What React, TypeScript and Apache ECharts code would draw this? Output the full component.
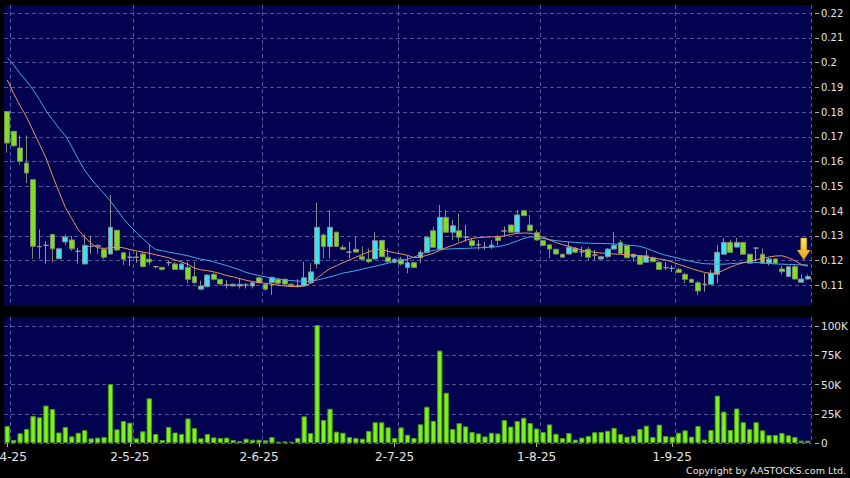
import React, { useEffect, useRef } from 'react';
import * as echarts from 'echarts';

// Trading days (HK) April - September 2025
const APR_DAYS = [1, 2, 3, 7, 8, 9, 10, 11, 14, 15, 16, 17, 22, 23, 24, 25, 28, 29, 30];
const MAY_DAYS = [2, 6, 7, 8, 9, 12, 13, 14, 15, 16, 19, 20, 21, 22, 23, 26, 27, 28, 29, 30];
const JUN_DAYS = [2, 3, 4, 5, 6, 9, 10, 11, 12, 13, 16, 17, 18, 19, 20, 23, 24, 25, 26, 27, 30];
const JUL_DAYS = [2, 3, 4, 7, 8, 9, 10, 11, 14, 15, 16, 17, 18, 21, 22, 23, 24, 25, 28, 29, 30, 31];
const AUG_DAYS = [1, 4, 5, 6, 7, 8, 11, 12, 13, 14, 15, 18, 19, 20, 21, 22, 25, 26, 27, 28, 29];
const SEP_DAYS = [1, 2, 3, 4, 5, 8, 9, 10, 11, 12, 15, 16, 17, 18, 19, 22, 23, 24, 25, 26, 29, 30];
const MONTHS: [number, number[]][] = [[4, APR_DAYS], [5, MAY_DAYS], [6, JUN_DAYS], [7, JUL_DAYS], [8, AUG_DAYS], [9, SEP_DAYS]];

const categories: string[] = [];
const monthStarts: number[] = [];
MONTHS.forEach(([m, days]) => {
  monthStarts.push(categories.length);
  days.forEach((d) => categories.push(`${d}-${m}-25`));
});

// [open, close, low, high]
const ohlc: number[][] = [
  [0.1802, 0.1675, 0.1636, 0.1802], [0.1722, 0.1664, 0.1660, 0.1725], [0.1655, 0.1601, 0.1588, 0.1705], [0.1594, 0.1554, 0.1514, 0.1705],
  [0.1527, 0.1258, 0.1208, 0.1527], [0.1256, 0.1258, 0.1208, 0.1326], [0.1262, 0.1262, 0.1189, 0.1279], [0.1306, 0.1248, 0.1194, 0.1306],
  [0.1208, 0.1248, 0.1206, 0.1252], [0.1276, 0.1296, 0.1262, 0.1306], [0.1284, 0.1248, 0.1239, 0.1300], [0.1238, 0.1238, 0.1189, 0.1252],
  [0.1187, 0.1262, 0.1185, 0.1306], [0.1258, 0.1258, 0.1228, 0.1300], [0.1262, 0.1258, 0.1228, 0.1266], [0.1246, 0.1214, 0.1206, 0.1250],
  [0.1227, 0.1335, 0.1225, 0.1465], [0.1323, 0.1243, 0.1240, 0.1325], [0.1232, 0.1206, 0.1183, 0.1236], [0.1214, 0.1214, 0.1178, 0.1236],
  [0.1214, 0.1214, 0.1192, 0.1236], [0.1227, 0.1176, 0.1174, 0.1236], [0.1206, 0.1195, 0.1183, 0.1264], [0.1176, 0.1176, 0.1170, 0.1179],
  [0.1173, 0.1165, 0.1160, 0.1175], [0.1192, 0.1192, 0.1179, 0.1200], [0.1187, 0.1165, 0.1163, 0.1195], [0.1165, 0.1187, 0.1163, 0.1189],
  [0.1173, 0.1125, 0.1110, 0.1195], [0.1136, 0.1111, 0.1108, 0.1195], [0.1085, 0.1098, 0.1083, 0.1120], [0.1095, 0.1142, 0.1093, 0.1145],
  [0.1145, 0.1125, 0.1120, 0.1151], [0.1125, 0.1106, 0.1100, 0.1128], [0.1102, 0.1102, 0.1088, 0.1121], [0.1098, 0.1105, 0.1096, 0.1108],
  [0.1098, 0.1105, 0.1088, 0.1128], [0.1102, 0.1102, 0.1088, 0.1109], [0.1098, 0.1111, 0.1088, 0.1115], [0.1131, 0.1111, 0.1109, 0.1135],
  [0.1105, 0.1085, 0.1080, 0.1109], [0.1111, 0.1133, 0.1062, 0.1135], [0.1125, 0.1109, 0.1101, 0.1131], [0.1125, 0.1106, 0.1100, 0.1128],
  [0.1105, 0.1098, 0.1093, 0.1109], [0.1098, 0.1098, 0.1093, 0.1125], [0.1098, 0.1131, 0.1096, 0.1196], [0.1111, 0.1155, 0.1109, 0.1190],
  [0.1187, 0.1335, 0.1169, 0.1434], [0.1304, 0.1257, 0.1210, 0.1310], [0.1257, 0.1335, 0.1210, 0.1405], [0.1315, 0.1257, 0.1255, 0.1317],
  [0.1253, 0.1246, 0.1244, 0.1264], [0.1235, 0.1235, 0.1210, 0.1276], [0.1246, 0.1235, 0.1232, 0.1297], [0.1216, 0.1206, 0.1204, 0.1257],
  [0.1206, 0.1196, 0.1190, 0.1249], [0.1207, 0.1281, 0.1205, 0.1317], [0.1282, 0.1216, 0.1214, 0.1284], [0.1214, 0.1196, 0.1192, 0.1249],
  [0.1194, 0.1206, 0.1190, 0.1210], [0.1206, 0.1187, 0.1181, 0.1216], [0.1173, 0.1192, 0.1149, 0.1223], [0.1192, 0.1173, 0.1170, 0.1195],
  [0.1212, 0.1234, 0.1190, 0.1243], [0.1234, 0.1295, 0.1230, 0.1297], [0.1321, 0.1254, 0.1252, 0.1337], [0.1247, 0.1375, 0.1245, 0.1425],
  [0.1375, 0.1315, 0.1313, 0.1405], [0.1315, 0.1341, 0.1284, 0.1364], [0.1321, 0.1295, 0.1277, 0.1391], [0.1295, 0.1295, 0.1277, 0.1344],
  [0.1281, 0.1261, 0.1255, 0.1290], [0.1264, 0.1264, 0.1245, 0.1283], [0.1254, 0.1254, 0.1245, 0.1276], [0.1255, 0.1263, 0.1247, 0.1283],
  [0.1295, 0.1282, 0.1262, 0.1304], [0.1320, 0.1320, 0.1300, 0.1338], [0.1344, 0.1315, 0.1313, 0.1346], [0.1315, 0.1385, 0.1313, 0.1405],
  [0.1402, 0.1382, 0.1380, 0.1406], [0.1344, 0.1321, 0.1318, 0.1385], [0.1313, 0.1284, 0.1280, 0.1324], [0.1281, 0.1262, 0.1259, 0.1284],
  [0.1264, 0.1247, 0.1210, 0.1266], [0.1246, 0.1227, 0.1225, 0.1249], [0.1226, 0.1214, 0.1211, 0.1229], [0.1227, 0.1254, 0.1225, 0.1277],
  [0.1250, 0.1234, 0.1230, 0.1255], [0.1236, 0.1236, 0.1216, 0.1256], [0.1246, 0.1214, 0.1203, 0.1256], [0.1223, 0.1223, 0.1203, 0.1243],
  [0.1207, 0.1216, 0.1205, 0.1218], [0.1216, 0.1247, 0.1211, 0.1251], [0.1247, 0.1261, 0.1245, 0.1317], [0.1274, 0.1230, 0.1228, 0.1284],
  [0.1261, 0.1212, 0.1210, 0.1263], [0.1215, 0.1226, 0.1196, 0.1228], [0.1220, 0.1186, 0.1184, 0.1222], [0.1194, 0.1220, 0.1192, 0.1243],
  [0.1212, 0.1196, 0.1194, 0.1216], [0.1194, 0.1165, 0.1163, 0.1196], [0.1172, 0.1172, 0.1163, 0.1194], [0.1169, 0.1169, 0.1155, 0.1181],
  [0.1165, 0.1153, 0.1150, 0.1172], [0.1145, 0.1125, 0.1110, 0.1151], [0.1125, 0.1113, 0.1110, 0.1128], [0.1111, 0.1078, 0.1062, 0.1119],
  [0.1105, 0.1105, 0.1075, 0.1149], [0.1105, 0.1149, 0.1103, 0.1163], [0.1145, 0.1234, 0.1109, 0.1263], [0.1226, 0.1274, 0.1224, 0.1291],
  [0.1274, 0.1234, 0.1232, 0.1285], [0.1255, 0.1274, 0.1253, 0.1292], [0.1274, 0.1226, 0.1224, 0.1276], [0.1226, 0.1190, 0.1188, 0.1228],
  [0.1251, 0.1251, 0.1196, 0.1253], [0.1226, 0.1190, 0.1188, 0.1250], [0.1190, 0.1207, 0.1180, 0.1212], [0.1207, 0.1190, 0.1188, 0.1209],
  [0.1167, 0.1156, 0.1145, 0.1180], [0.1136, 0.1176, 0.1134, 0.1178], [0.1176, 0.1126, 0.1124, 0.1185], [0.1113, 0.1126, 0.1111, 0.1145],
  [0.1126, 0.1136, 0.1124, 0.1145],
];

// 10-day moving average (orange)
const ma10 = [
  0.1930, 0.1875, 0.1825, 0.1780, 0.1725, 0.1670, 0.1615, 0.1545, 0.1480, 0.1415,
  0.1370, 0.1325, 0.1295, 0.1270, 0.1252, 0.1250, 0.1252, 0.1256, 0.1252, 0.1245,
  0.1240, 0.1235, 0.1230, 0.1224, 0.1218, 0.1212, 0.1203, 0.1195, 0.1185, 0.1170,
  0.1163, 0.1160, 0.1155, 0.1148, 0.1140, 0.1135, 0.1128, 0.1121, 0.1116, 0.1112,
  0.1109, 0.1105, 0.1101, 0.1098, 0.1096, 0.1095, 0.1099, 0.1108, 0.1130, 0.1150,
  0.1168, 0.1180, 0.1192, 0.1203, 0.1214, 0.1225, 0.1236, 0.1245, 0.1245, 0.1238,
  0.1232, 0.1227, 0.1222, 0.1212, 0.1215, 0.1222, 0.1230, 0.1242, 0.1253, 0.1262,
  0.1272, 0.1282, 0.1290, 0.1293, 0.1295, 0.1296, 0.1297, 0.1300, 0.1306, 0.1310,
  0.1312, 0.1311, 0.1305, 0.1295, 0.1284, 0.1273, 0.1265, 0.1258, 0.1250, 0.1243,
  0.1238, 0.1234, 0.1231, 0.1229, 0.1227, 0.1226, 0.1224, 0.1223, 0.1220, 0.1216,
  0.1211, 0.1207, 0.1203, 0.1195, 0.1185, 0.1177, 0.1168, 0.1160, 0.1153, 0.1149,
  0.1150, 0.1162, 0.1174, 0.1184, 0.1192, 0.1198, 0.1204, 0.1210, 0.1215, 0.1219,
  0.1220, 0.1212, 0.1200, 0.1185, 0.1178,
];

// 20-day moving average (blue)
const ma20 = [
  0.2020, 0.1990, 0.1955, 0.1925, 0.1890, 0.1850, 0.1805, 0.1770, 0.1735, 0.1705,
  0.1660, 0.1610, 0.1565, 0.1530, 0.1500, 0.1470, 0.1440, 0.1405, 0.1370, 0.1340,
  0.1315, 0.1290, 0.1265, 0.1245, 0.1240, 0.1235, 0.1230, 0.1225, 0.1220, 0.1213,
  0.1206, 0.1202, 0.1195, 0.1188, 0.1180, 0.1172, 0.1163, 0.1153, 0.1146, 0.1140,
  0.1135, 0.1130, 0.1126, 0.1122, 0.1120, 0.1118, 0.1116, 0.1117, 0.1122, 0.1128,
  0.1135, 0.1142, 0.1150, 0.1155, 0.1160, 0.1166, 0.1172, 0.1178, 0.1184, 0.1190,
  0.1196, 0.1201, 0.1206, 0.1215, 0.1225, 0.1235, 0.1242, 0.1245, 0.1247, 0.1248,
  0.1249, 0.1250, 0.1251, 0.1252, 0.1253, 0.1255, 0.1257, 0.1262, 0.1270, 0.1280,
  0.1290, 0.1296, 0.1295, 0.1290, 0.1285, 0.1281, 0.1278, 0.1276, 0.1274, 0.1272,
  0.1271, 0.1270, 0.1270, 0.1269, 0.1267, 0.1265, 0.1263, 0.1261, 0.1258, 0.1250,
  0.1240, 0.1230, 0.1222, 0.1216, 0.1210, 0.1203, 0.1197, 0.1192, 0.1188, 0.1187,
  0.1186, 0.1186, 0.1188, 0.1190, 0.1192, 0.1194, 0.1193, 0.1191, 0.1189, 0.1187,
  0.1186, 0.1185, 0.1184, 0.1183, 0.1183,
];

// Volume in thousands of shares
const volumeK = [
  14.5, 2.6, 8.3, 12, 23, 22, 32, 29, 9, 13.7,
  5.7, 8.8, 11, 4, 4.6, 5.1, 50.4, 11.7, 18.8, 17.4,
  4, 10, 38.2, 7.7, 2.6, 13.7, 9, 7.7, 21, 12.8,
  4, 7.7, 4.8, 4.3, 4.6, 2.6, 1.7, 3.7, 2.8, 2.8,
  2.3, 5.1, 1.1, 1.4, 1.1, 4.3, 22.8, 8.5, 100.8, 19.7,
  29.3, 9.7, 8.8, 5.1, 4.3, 3.7, 10.3, 17.7, 17.7, 13.4,
  4.3, 13.4, 7.1, 4.3, 16, 31, 19, 79, 43, 12,
  17, 14.2, 9.4, 8.2, 5.6, 8.8, 8.2, 19.7, 14, 18.8,
  21.6, 17, 12.4, 9.4, 15.9, 7.9, 4.3, 8.6, 2.9, 4.6,
  6, 9.2, 9.4, 10.5, 13, 7.7, 5.4, 6.3, 12, 14.8,
  5.1, 15.7, 6, 5.4, 8.8, 10.8, 5.4, 14.5, 2.9, 11.1,
  40.5, 26.8, 11.1, 29.5, 17.8, 11.8, 17.8, 10.8, 6.9, 6.9,
  8.6, 6.6, 5.1, 2, 2,
];

const priceTicks = [0.11, 0.12, 0.13, 0.14, 0.15, 0.16, 0.17, 0.18, 0.19, 0.2, 0.21, 0.22];
const volumeTicks = [0, 25, 50, 75, 100];

const NAVY = '#020251';
const GRID_LINE = { color: '#55559c', width: 1, type: [4, 3] as number[] };
const LABEL_COLOR = '#e4e4e4';
const FONT = 'DejaVu Sans';

const isMonthStart = (i: number) => monthStarts.indexOf(i) >= 0;

export default function App() {
  const ref = useRef<HTMLDivElement>(null);
  useEffect(() => {
    document.body.style.margin = '0';
    document.body.style.background = '#000';
    const chart = echarts.init(ref.current!, null, { renderer: 'svg' });
    const gridBase = { left: 4, width: 807, show: true, backgroundColor: NAVY, borderWidth: 0, containLabel: false, outerBoundsMode: 'none' };
    const option: any = {
      animation: false,
      backgroundColor: '#000',
      grid: [
        { ...gridBase, top: 5, height: 301 },
        { ...gridBase, top: 317, height: 126 },
      ],
      xAxis: [
        {
          type: 'category', gridIndex: 0, data: categories, boundaryGap: true,
          axisLine: { show: false }, axisTick: { show: false }, axisLabel: { show: false },
          splitLine: { show: true, interval: (i: number) => isMonthStart(i - 1), lineStyle: GRID_LINE },
        },
        {
          type: 'category', gridIndex: 1, data: categories, boundaryGap: true, offset: 2,
          axisLine: { show: false },
          axisTick: { show: true, alignWithLabel: true, interval: (i: number) => isMonthStart(i), length: 4, lineStyle: { color: '#b0b0b0' } },
          axisLabel: {
            interval: (i: number) => isMonthStart(i), color: LABEL_COLOR, fontSize: 12, fontFamily: FONT, margin: 6,
            alignMinLabel: 'center', alignMaxLabel: 'center', hideOverlap: false,
          },
          splitLine: { show: true, interval: (i: number) => isMonthStart(i - 1), lineStyle: GRID_LINE },
        },
      ],
      yAxis: [
        {
          type: 'value', gridIndex: 0, position: 'right', min: 0.10172, max: 0.22323, offset: 4,
          axisLine: { show: false },
          axisTick: { show: true, length: 4, customValues: priceTicks, lineStyle: { color: '#b0b0b0' } },
          axisLabel: { customValues: priceTicks, color: LABEL_COLOR, fontSize: 10, fontFamily: FONT, margin: 6, formatter: (v: number) => String(+v.toFixed(2)) },
          splitLine: { show: true, lineStyle: GRID_LINE },
        },
        {
          type: 'value', gridIndex: 1, position: 'right', min: 0, max: 107.7, offset: 4,
          axisLine: { show: false },
          axisTick: { show: true, length: 4, customValues: volumeTicks, lineStyle: { color: '#b0b0b0' } },
          axisLabel: { customValues: volumeTicks, color: LABEL_COLOR, fontSize: 10.5, fontFamily: FONT, margin: 6, formatter: (v: number) => (v === 0 ? '0' : `${v}K`) },
          splitLine: { show: true, lineStyle: GRID_LINE },
        },
      ],
      series: [
        {
          type: 'candlestick', xAxisIndex: 0, yAxisIndex: 0, data: ohlc, barWidth: '82%',
          itemStyle: {
            color: '#38E4F2', color0: '#7EE11F',
            borderColor: '#8a8a8a', borderColor0: '#7a8a6a', borderColorDoji: '#9a9a9a', borderWidth: 1,
          },
          markPoint: {
            silent: true,
            symbol: 'path://M3,0L9,0L9,12L12.5,12L6,22L-0.5,12L3,12Z',
            symbolSize: [13, 22],
            symbolOffset: [-4, 0],
            label: { show: false },
            itemStyle: {
              color: new echarts.graphic.LinearGradient(0, 0, 0, 1, [
                { offset: 0, color: '#FFE85E' },
                { offset: 1, color: '#E8A018' },
              ]),
              borderColor: '#B88000', borderWidth: 0.5,
            },
            data: [{ coord: [categories[categories.length - 1], 0.1247] }],
          },
        },
        {
          type: 'line', xAxisIndex: 0, yAxisIndex: 0, data: ma20, symbol: 'none',
          lineStyle: { color: '#45A9E8', width: 1 }, itemStyle: { color: '#45A9E8' },
        },
        {
          type: 'line', xAxisIndex: 0, yAxisIndex: 0, data: ma10, symbol: 'none',
          lineStyle: { color: '#E8935E', width: 1 }, itemStyle: { color: '#E8935E' },
        },
        {
          type: 'bar', xAxisIndex: 1, yAxisIndex: 1, data: volumeK, barWidth: '82%',
          itemStyle: { color: '#7DF21F', borderColor: '#4C9A12', borderWidth: 1 },
        },
      ],
      graphic: [
        {
          type: 'text', right: 4, top: 465,
          style: { text: 'Copyright by AASTOCKS.com Ltd.', fill: LABEL_COLOR, font: `9.5px "${FONT}"` },
        },
      ],
    };
    chart.setOption(option);
    return () => chart.dispose();
  }, []);
  return <div ref={ref} style={{ position: 'fixed', left: 0, top: 0, width: 850, height: 478, background: '#000' }} />;
}
